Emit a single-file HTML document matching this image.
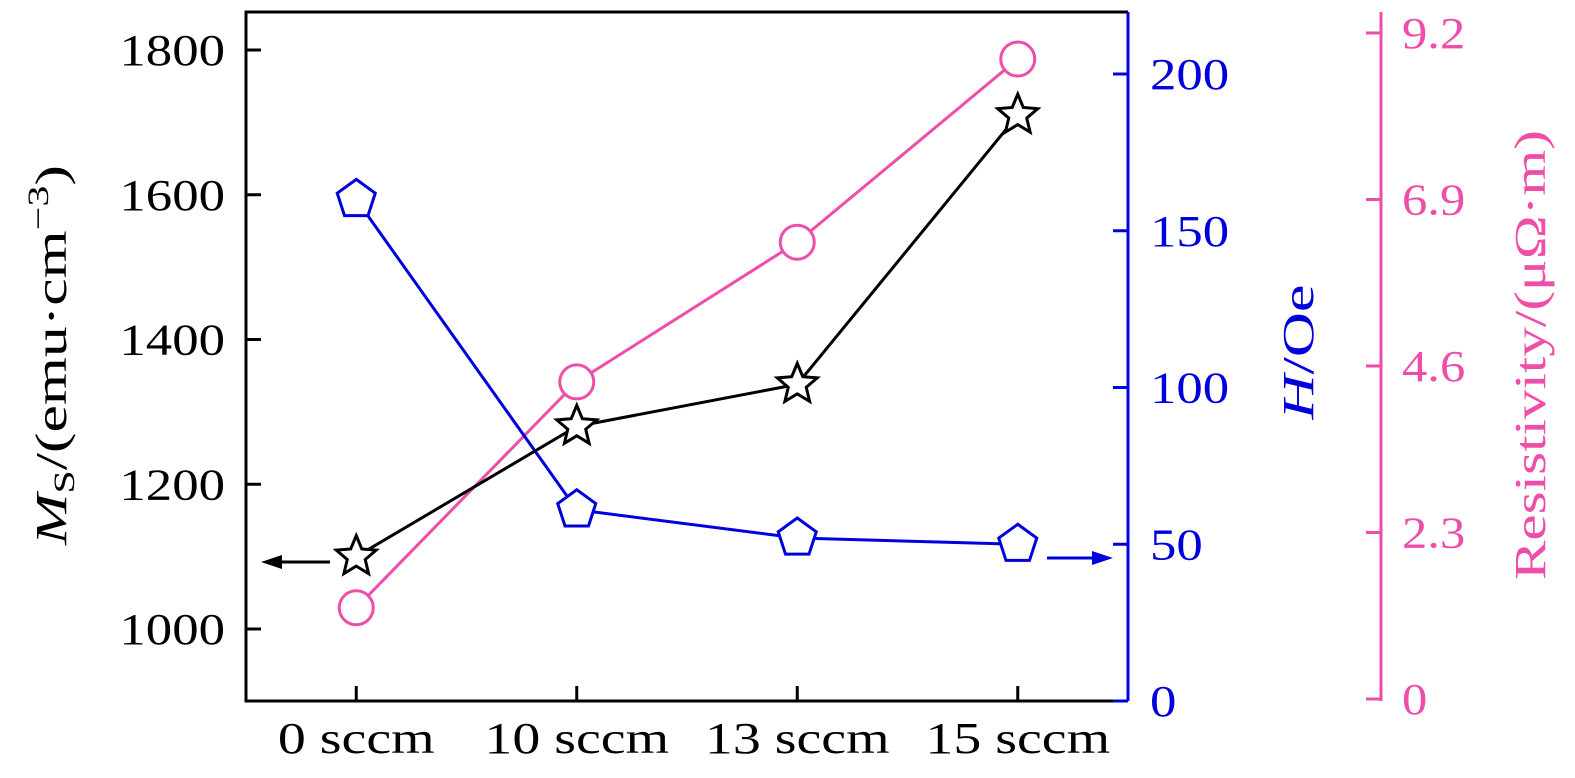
<!DOCTYPE html>
<html><head><meta charset="utf-8"><style>
html,body{margin:0;padding:0;background:#fff;width:1575px;height:778px;overflow:hidden}
svg text{font-family:"Liberation Serif",serif}
</style></head><body>
<svg id="chart" width="1575" height="778" viewBox="0 0 1575 778" xmlns="http://www.w3.org/2000/svg">
<g id="lines"></g><g id="marks"></g><g id="axes"></g>
</svg>
<script>
const categories=["0 sccm","10 sccm","13 sccm","15 sccm"];
const msValues=[1100,1280,1338,1710];
const hValues=[160,61,52,50];
const rhoValues=[1.26,4.38,6.31,8.84];
const msTicks=[1000,1200,1400,1600,1800];
const hTicks=[0,50,100,150,200];
const rhoTicks=[0,2.3,4.6,6.9,9.2];

const NS="http://www.w3.org/2000/svg";
const L=246,R=1128,T=12,B=701,PX=1381;
const xS=i=>L+(i+0.5)*(R-L)/4;
const yMs=v=>629-(v-1000)*(579/800);
const yH=v=>B-v*(627/200);
const yRho=v=>699-v*(666/9.2);
function mk(p,tag,at){const e=document.createElementNS(NS,tag);for(const k in at)e.setAttribute(k,at[k]);p.appendChild(e);return e;}
function widen(t,f){const w=t.getComputedTextLength();t.setAttribute('textLength',w*f);t.setAttribute('lengthAdjust','spacingAndGlyphs');}
const gl=document.getElementById('lines'),gm=document.getElementById('marks'),ga=document.getElementById('axes');

let e=mk(ga,'path',{d:`M${R} ${T} L${L} ${T} L${L} ${B} L${R} ${B}`,fill:'none',stroke:'#000','stroke-width':3});

e=mk(ga,'line',{x1:R,y1:T,x2:R,y2:B,stroke:'#0000dd','stroke-width':3});

e=mk(ga,'line',{x1:PX,y1:T,x2:PX,y2:B,stroke:'#ee4ea8','stroke-width':3});


msTicks.forEach(v=>{const y=yMs(v);
 mk(ga,'line',{x1:L,y1:y,x2:L+15,y2:y,stroke:'#000','stroke-width':3});
 const t=mk(ga,'text',{x:L-21,y:y+15,'text-anchor':'end','font-size':44,fill:'#000'});t.textContent=v;
 
 
 widen(t,1.2);});
hTicks.forEach(v=>{const y=yH(v);
 mk(ga,'line',{x1:R,y1:y,x2:R-15,y2:y,stroke:'#0000dd','stroke-width':3});
 const t=mk(ga,'text',{x:R+22,y:y+15,'font-size':44,fill:'#0000dd'});t.textContent=v;
 
 
 widen(t,1.2);});
rhoTicks.forEach(v=>{const y=yRho(v);
 mk(ga,'line',{x1:PX,y1:y,x2:PX-15,y2:y,stroke:'#ee4ea8','stroke-width':3});
 const t=mk(ga,'text',{x:PX+21,y:y+15,'font-size':44,fill:'#ee4ea8'});t.textContent=v.toFixed(v===0?0:1);
 
 
 widen(t,1.15);});
categories.forEach((c,i)=>{const x=xS(i);
 mk(ga,'line',{x1:x,y1:B,x2:x,y2:B-15,stroke:'#000','stroke-width':3});
 const t=mk(ga,'text',{x:x,y:753,'text-anchor':'middle','font-size':44,fill:'#000'});t.textContent=c;
 
 
 widen(t,1.27);});

let t=mk(ga,'text',{transform:'translate(66,355) rotate(-90)','text-anchor':'middle','font-size':44,fill:'#000'});
t.innerHTML='<tspan font-style="italic">M</tspan><tspan font-size="30" dy="8">S</tspan><tspan dy="-8">/(emu·cm</tspan><tspan font-size="30" dy="-18">−3</tspan><tspan dy="18">)</tspan>';

t.setAttribute('textLength',380);t.setAttribute('lengthAdjust','spacingAndGlyphs');
t=mk(ga,'text',{transform:'translate(1313,352) rotate(-90)','text-anchor':'middle','font-size':44,fill:'#0000dd'});
t.innerHTML='<tspan font-style="italic">H</tspan>/Oe';

t.setAttribute('textLength',135);t.setAttribute('lengthAdjust','spacingAndGlyphs');
t=mk(ga,'text',{transform:'translate(1545,355) rotate(-90)','text-anchor':'middle','font-size':44,fill:'#ee4ea8'});
t.textContent='Resistivity/(μΩ·m)';

t.setAttribute('textLength',450);t.setAttribute('lengthAdjust','spacingAndGlyphs');

function poly(vals,fy,col,name){const pts=vals.map((v,i)=>xS(i)+','+fy(v)).join(' ');
 const p=mk(gl,'polyline',{points:pts,fill:'none',stroke:col,'stroke-width':3});
 }
poly(rhoValues,yRho,'#ee4ea8','resistivity-line');
poly(hValues,yH,'#0000dd','h-line');
poly(msValues,yMs,'#000','ms-line');

function star(cx,cy,r){let s='';for(let k=0;k<10;k++){const a=-Math.PI/2+k*Math.PI/5,rr=k%2?r*0.45:r;s+=(cx+rr*Math.cos(a))+','+(cy+rr*Math.sin(a))+' ';}return s;}
function pent(cx,cy,r){let s='';for(let k=0;k<5;k++){const a=-Math.PI/2+k*2*Math.PI/5;s+=(cx+r*Math.cos(a))+','+(cy+r*Math.sin(a))+' ';}return s;}
rhoValues.forEach((v,i)=>{const m=mk(gm,'circle',{cx:xS(i),cy:yRho(v),r:17,fill:'#fff',stroke:'#ee4ea8','stroke-width':3});
 });
hValues.forEach((v,i)=>{const m=mk(gm,'polygon',{points:pent(xS(i),yH(v),20),fill:'#fff',stroke:'#0000dd','stroke-width':3});
 });
msValues.forEach((v,i)=>{const m=mk(gm,'polygon',{points:star(xS(i),yMs(v),21),fill:'#fff',stroke:'#000','stroke-width':3});
 });

e=mk(gm,'line',{x1:330,y1:562,x2:270,y2:562,stroke:'#000','stroke-width':3});

mk(gm,'polygon',{points:'261,562 282,555 282,569',fill:'#000'});
e=mk(gm,'line',{x1:1047,y1:558,x2:1102,y2:558,stroke:'#0000dd','stroke-width':3});

mk(gm,'polygon',{points:'1113,558 1092,551 1092,565',fill:'#0000dd'});
</script>
</body></html>
